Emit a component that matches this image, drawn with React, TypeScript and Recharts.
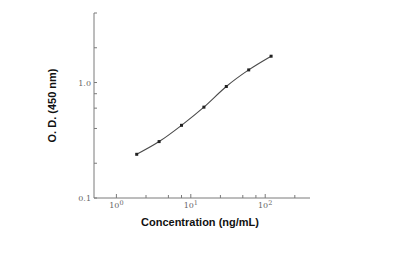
import { LineChart, Line, XAxis, YAxis } from 'recharts';

const concentrations = [1.875, 3.75, 7.5, 15, 30, 60, 120];
const odValues = [0.239, 0.308, 0.426, 0.612, 0.924, 1.286, 1.69];

const xTicks = [1, 2.5, 5, 7.5, 10, 25, 50, 75, 100, 250];
const xMajor: Record<number, string> = { 1: '0', 10: '1', 100: '2' };
const yTicks = [0.1, 0.2, 0.4, 0.6, 0.8, 1, 2, 4];
const yMajor: Record<number, string> = { 0.1: '0.1', 1: '1.0' };

const axisColor = '#7a7a7a';
const tickFont = '"DejaVu Serif", "Liberation Serif", serif';

function XTick(props: any) {
  const { x, y, payload } = props;
  const exp = xMajor[payload.value];
  return (
    <g>
      <line x1={x} x2={x} y1={y} y2={y - (exp ? 4 : 3)} stroke={axisColor} />
      {exp && (
        <text x={x} y={y + 10} textAnchor="middle" fontSize={8} fill="#666" fontFamily={tickFont}>
          10
          <tspan fontSize={6.5} dy={-3}>{exp}</tspan>
        </text>
      )}
    </g>
  );
}

function YTick(props: any) {
  const { x, y, payload } = props;
  const label = yMajor[payload.value];
  return (
    <g>
      <line x1={x} x2={x + 3} y1={y} y2={y} stroke={axisColor} />
      {label && (
        <text x={x - 3} y={y + 3} textAnchor="end" fontSize={8} fill="#666" fontFamily={tickFont}>
          {label}
        </text>
      )}
    </g>
  );
}

function SquareDot(props: any) {
  const { cx, cy } = props;
  return <rect x={cx - 1.5} y={cy - 1.5} width={3} height={3} fill="#222" />;
}

export default function App() {
  const data = concentrations.map((c, i) => ({ conc: c, od: odValues[i] }));

  return (
    <div style={{ position: 'absolute', left: 0, top: 0, background: '#fff' }}>
      <LineChart
        width={400}
        height={255}
        data={data}
        margin={{ top: 13, right: 90, bottom: 27, left: 44 }}
      >
        <XAxis
          dataKey="conc"
          type="number"
          scale="log"
          domain={[0.5, 400]}
          ticks={xTicks}
          interval={0}
          height={30}
          tickSize={0}
          tickMargin={0}
          tick={<XTick />}
          stroke={axisColor}
          label={{
            value: 'Concentration (ng/mL)',
            position: 'center',
            dy: 9,
            dx: -2,
            style: { fontFamily: '"Liberation Sans", Arial, sans-serif', fontWeight: 'bold', fontSize: 11, fill: '#111' },
          }}
        />
        <YAxis
          type="number"
          scale="log"
          domain={[0.1, 4]}
          ticks={yTicks}
          interval={0}
          width={50}
          tickSize={0}
          tickMargin={0}
          tick={<YTick />}
          stroke={axisColor}
          allowDataOverflow
          label={{
            value: 'O. D. (450 nm)',
            angle: -90,
            position: 'center',
            dx: -17,
            style: { fontFamily: '"Liberation Sans", Arial, sans-serif', fontWeight: 'bold', fontSize: 11, fill: '#111' },
          }}
        />
        <Line
          type="monotone"
          dataKey="od"
          stroke="#4a4a4a"
          strokeWidth={1.1}
          dot={<SquareDot />}
          isAnimationActive={false}
        />
      </LineChart>
    </div>
  );
}
